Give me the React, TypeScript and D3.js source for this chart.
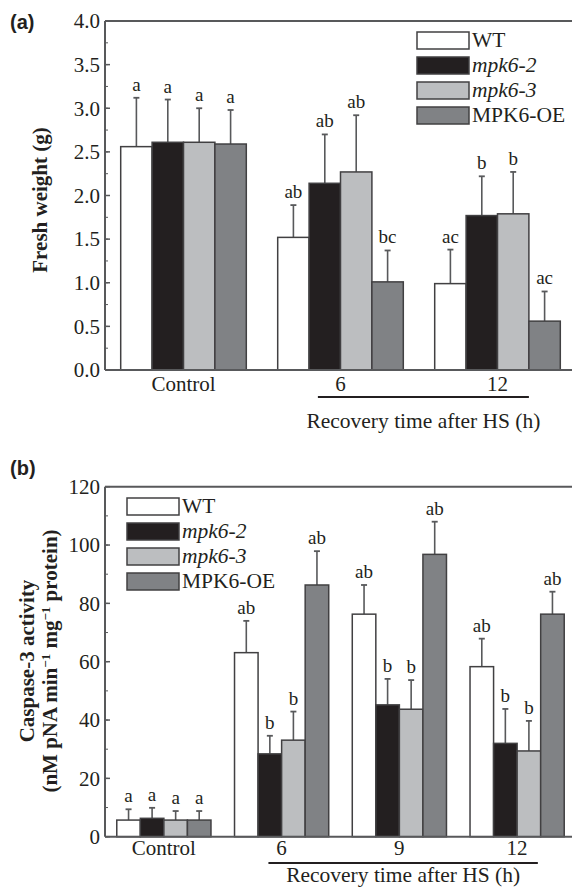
import React from 'react'
import * as d3 from 'd3'

// series shared by both panels
const strains = ['WT', 'mpk6-2', 'mpk6-3', 'MPK6-OE']
const italicStrain = [false, true, true, false]
const fills = ['#ffffff', '#231f20', '#bcbec0', '#808285']

// (a) fresh weight
const groupsA = ['Control', '6', '12']
const meanA = [
  [2.56, 2.61, 2.61, 2.59],
  [1.52, 2.14, 2.27, 1.01],
  [0.99, 1.77, 1.79, 0.56],
]
const errTopA = [
  [3.12, 3.10, 3.00, 2.98],
  [1.89, 2.70, 2.92, 1.37],
  [1.38, 2.22, 2.27, 0.90],
]
const lettersA = [
  ['a', 'a', 'a', 'a'],
  ['ab', 'ab', 'ab', 'bc'],
  ['ac', 'b', 'b', 'ac'],
]
const ticksA = [0, 0.5, 1, 1.5, 2, 2.5, 3, 3.5, 4]

// (b) caspase-3 activity
const groupsB = ['Control', '6', '9', '12']
const meanB = [
  [5.7, 6.3, 5.7, 5.7],
  [63.1, 28.4, 33.1, 86.3],
  [76.3, 45.2, 43.7, 96.8],
  [58.3, 32.0, 29.4, 76.3],
]
const errTopB = [
  [9.4, 9.9, 8.8, 8.8],
  [74.0, 34.6, 42.9, 97.9],
  [86.3, 54.1, 53.7, 108.0],
  [67.9, 43.8, 39.7, 84.0],
]
const lettersB = [
  ['a', 'a', 'a', 'a'],
  ['ab', 'b', 'b', 'ab'],
  ['ab', 'b', 'b', 'ab'],
  ['ab', 'b', 'b', 'ab'],
]
const ticksB = [0, 20, 40, 60, 80, 100, 120]

const serif = '"Liberation Serif", "Times New Roman", serif'
const sans = '"Liberation Sans", Arial, sans-serif'
const ink = '#231f20'
const axisGray = '#58595b'

type PanelProps = {
  top: number
  bottom: number
  groups: string[]
  means: number[][]
  errs: number[][]
  letters: string[][]
  ticks: number[]
  minorStep: number
  fmt: (v: number) => string
  legendX: number
  legendY: number
  bracket: [number, number]
  bracketY: number
  tickLabelY: number
  recoveryY: number
}

function Panel(p: PanelProps) {
  const left = 105
  const x = d3.scaleBand<string>().domain(p.groups).range([left, 576]).paddingInner(0.2).paddingOuter(0.1)
  const inner = d3.scaleBand<number>().domain([0, 1, 2, 3]).range([0, x.bandwidth()])
  const ymax = p.ticks[p.ticks.length - 1]
  const y = d3.scaleLinear().domain([0, ymax]).range([p.bottom, p.top])
  const minor = d3.range(0, ymax + 1e-9, p.minorStep)
  const bw = inner.bandwidth()

  const gFirst = p.groups[1]
  const gLast = p.groups[p.groups.length - 1]
  const bx0 = (x(gFirst) as number) + x.bandwidth() * p.bracket[0]
  const bx1 = (x(gLast) as number) + x.bandwidth() * p.bracket[1]

  return (
    <g>
      {/* bars */}
      {p.groups.map((g, gi) => (
        <g key={g} transform={`translate(${x(g)},0)`}>
          {p.means[gi].map((v, si) => {
            const bx = inner(si) as number
            const cx = bx + bw / 2
            return (
              <g key={si}>
                <line x1={cx} x2={cx} y1={y(v)} y2={y(p.errs[gi][si])} stroke={axisGray} strokeWidth={1.6} />
                <line x1={cx - 3} x2={cx + 3} y1={y(p.errs[gi][si])} y2={y(p.errs[gi][si])} stroke={axisGray} strokeWidth={1.8} />
                <rect x={bx} y={y(v)} width={bw} height={p.bottom - y(v)} fill={fills[si]} stroke="#414042" strokeWidth={1.5} />
                <text x={cx} y={y(p.errs[gi][si]) - 7} textAnchor="middle" fontFamily={serif} fontSize={19} fill={ink}>
                  {p.letters[gi][si]}
                </text>
              </g>
            )
          })}
          <text x={x.bandwidth() / 2} y={p.tickLabelY} textAnchor="middle" fontFamily={serif} fontSize={21} fill={ink}>
            {g}
          </text>
        </g>
      ))}

      {/* axes frame */}
      <line x1={left} x2={572} y1={p.bottom} y2={p.bottom} stroke={axisGray} strokeWidth={2} />
      <line x1={left} x2={572} y1={p.top} y2={p.top} stroke={axisGray} strokeWidth={2} />
      <line x1={left} x2={left} y1={p.top} y2={p.bottom} stroke={axisGray} strokeWidth={2} />
      {minor.map(t => (
        <line key={'m' + t} x1={left} x2={left + 3} y1={y(t)} y2={y(t)} stroke={axisGray} strokeWidth={1} />
      ))}
      {p.ticks.map(t => (
        <g key={t}>
          <line x1={left} x2={left + 5} y1={y(t)} y2={y(t)} stroke={axisGray} strokeWidth={1.5} />
          <text x={left - 5} y={y(t)} dy="0.35em" textAnchor="end" fontFamily={serif} fontSize={21} fill={ink}>
            {p.fmt(t)}
          </text>
        </g>
      ))}

      {/* recovery bracket */}
      <line x1={bx0} x2={bx1} y1={p.bracketY} y2={p.bracketY} stroke={ink} strokeWidth={2} />
      <text x={(bx0 + bx1) / 2} y={p.recoveryY} textAnchor="middle" fontFamily={serif} fontSize={21.5} fill={ink}>
        Recovery time after HS (h)
      </text>

      {/* legend */}
      {strains.map((s, i) => (
        <g key={s} transform={`translate(${p.legendX},${p.legendY + i * 25})`}>
          <rect x={0} y={0} width={52} height={17} fill={fills[i]} stroke="#414042" strokeWidth={1.5} />
          <text x={55} y={15} fontFamily={serif} fontSize={21.5} fontStyle={italicStrain[i] ? 'italic' : 'normal'} fill={ink}>
            {s}
          </text>
        </g>
      ))}
    </g>
  )
}

export default function App() {
  return (
    <svg width={572} height={892} style={{ position: 'absolute', left: 0, top: 0, background: '#fff' }}>
      <text x={10} y={29} fontFamily={sans} fontWeight="bold" fontSize={20} fill={ink}>(a)</text>
      <Panel
        top={21}
        bottom={370}
        groups={groupsA}
        means={meanA}
        errs={errTopA}
        letters={lettersA}
        ticks={ticksA}
        minorStep={0.25}
        fmt={d3.format('.1f')}
        legendX={417}
        legendY={32}
        bracket={[0.32, 0.75]}
        bracketY={397}
        tickLabelY={391}
        recoveryY={428}
      />
      <text transform="translate(47,200) rotate(-90)" textAnchor="middle" fontFamily={serif} fontWeight="bold" fontSize={21} fill={ink}>
        Fresh weight (g)
      </text>

      <text x={10} y={475} fontFamily={sans} fontWeight="bold" fontSize={20} fill={ink}>(b)</text>
      <Panel
        top={486.7}
        bottom={836.7}
        groups={groupsB}
        means={meanB}
        errs={errTopB}
        letters={lettersB}
        ticks={ticksB}
        minorStep={10}
        fmt={d3.format('d')}
        legendX={127}
        legendY={498}
        bracket={[0.36, 0.72]}
        bracketY={863}
        tickLabelY={855}
        recoveryY={882}
      />
      <text transform="translate(34,661) rotate(-90)" textAnchor="middle" fontFamily={serif} fontWeight="bold" fontSize={21} fill={ink}>
        Caspase-3 activity
      </text>
      <text transform="translate(57,661) rotate(-90)" textAnchor="middle" fontFamily={serif} fontWeight="bold" fontSize={21} fill={ink}>
        (nM pNA min<tspan dy={-7} fontSize={13}>−1</tspan><tspan dy={7}> mg</tspan><tspan dy={-7} fontSize={13}>−1</tspan><tspan dy={7}> protein)</tspan>
      </text>
    </svg>
  )
}
